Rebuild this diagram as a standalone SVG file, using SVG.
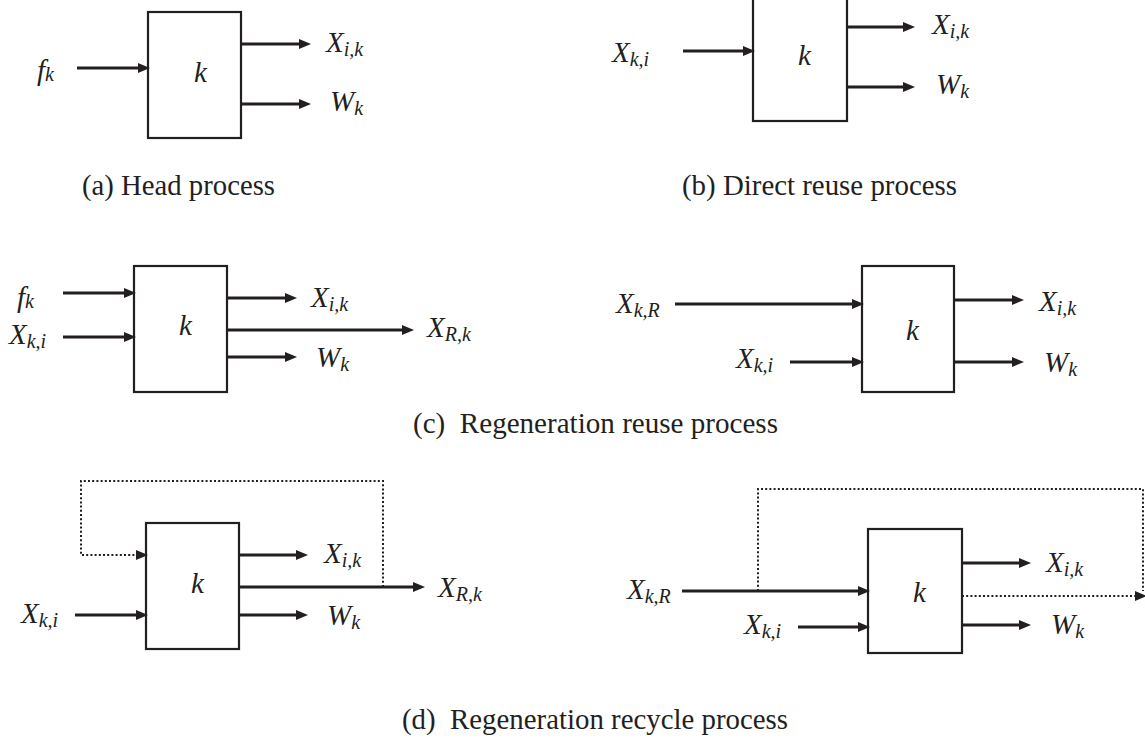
<svg xmlns="http://www.w3.org/2000/svg" width="1145" height="739" viewBox="0 0 1145 739">
<defs>
<marker id="ah" markerUnits="userSpaceOnUse" markerWidth="14" markerHeight="12" refX="5" refY="5" orient="auto">
<path d="M0,0 L12,5 L0,10 z" fill="#231f20"/>
</marker>
<style>
.box{fill:none;stroke:#231f20;stroke-width:2.2}
.ln{fill:none;stroke:#231f20;stroke-width:3}
.ar{marker-end:url(#ah)}
.dot{fill:none;stroke:#231f20;stroke-width:2;stroke-dasharray:2 2.2}
.m{font-family:'Liberation Serif','Times New Roman',serif;font-style:italic;font-size:29px;fill:#231f20}
.sub{font-size:20px}
.cap{font-family:'Liberation Serif','Times New Roman',serif;font-size:28.5px;fill:#231f20}
</style>
</defs>
<rect width="1145" height="739" fill="#ffffff"/>

<g id="node-a"><rect class="box" x="148" y="12" width="93" height="126"/><text class="m" x="194" y="82">k</text></g>
<g id="node-b"><rect class="box" x="753" y="-2" width="94" height="123"/><text class="m" x="798" y="65">k</text></g>
<g id="node-c1"><rect class="box" x="134" y="266" width="93" height="126"/><text class="m" x="179" y="335">k</text></g>
<g id="node-c2"><rect class="box" x="862" y="266" width="92" height="126"/><text class="m" x="906" y="340">k</text></g>
<g id="node-d1"><rect class="box" x="146" y="523" width="93" height="126"/><text class="m" x="191" y="593">k</text></g>
<g id="node-d2"><rect class="box" x="868" y="529" width="94" height="124"/><text class="m" x="913" y="602">k</text></g>

<g id="connectors">
<line class="ln ar" x1="77" y1="68" x2="143" y2="68"/>
<line class="ln ar" x1="241" y1="44" x2="304" y2="44"/>
<line class="ln ar" x1="241" y1="104" x2="304" y2="104"/>
<line class="ln ar" x1="683" y1="51" x2="748" y2="51"/>
<line class="ln ar" x1="847" y1="27" x2="908" y2="27"/>
<line class="ln ar" x1="847" y1="87" x2="908" y2="87"/>
<line class="ln ar" x1="63" y1="293" x2="129" y2="293"/>
<line class="ln ar" x1="63" y1="337" x2="129" y2="337"/>
<line class="ln ar" x1="227" y1="298" x2="290" y2="298"/>
<line class="ln ar" x1="227" y1="330" x2="407" y2="330"/>
<line class="ln ar" x1="227" y1="357" x2="290" y2="357"/>
<line class="ln ar" x1="675" y1="304" x2="857" y2="304"/>
<line class="ln ar" x1="790" y1="362" x2="857" y2="362"/>
<line class="ln ar" x1="954" y1="300" x2="1017" y2="300"/>
<line class="ln ar" x1="954" y1="362" x2="1017" y2="362"/>
<path class="dot ar" d="M383,587 V481 H81 V555 H141"/>
<line class="ln ar" x1="239" y1="555" x2="301" y2="555"/>
<line class="ln ar" x1="239" y1="587" x2="418" y2="587"/>
<line class="ln ar" x1="239" y1="615" x2="301" y2="615"/>
<line class="ln ar" x1="75" y1="615" x2="141" y2="615"/>
<line class="ln ar" x1="682" y1="591" x2="863" y2="591"/>
<path class="dot" d="M758,591 V489 H1143 V591"/>
<path class="dot ar" d="M962,596 H1140"/>
<line class="ln ar" x1="962" y1="563" x2="1024" y2="563"/>
<line class="ln ar" x1="962" y1="625" x2="1024" y2="625"/>
<line class="ln ar" x1="798" y1="627" x2="863" y2="627"/>
</g>

<g id="labels">
<text class="m" x="37" y="80">f<tspan class="sub" dy="1">k</tspan></text>
<text class="m" x="326" y="52">X<tspan class="sub" dy="4">i,k</tspan></text>
<text class="m" x="330" y="111">W<tspan class="sub" dy="4">k</tspan></text>
<text class="m" x="612" y="62">X<tspan class="sub" dy="4">k,i</tspan></text>
<text class="m" x="932" y="34">X<tspan class="sub" dy="4">i,k</tspan></text>
<text class="m" x="936" y="94">W<tspan class="sub" dy="4">k</tspan></text>
<text class="m" x="17" y="307">f<tspan class="sub" dy="1">k</tspan></text>
<text class="m" x="9" y="344">X<tspan class="sub" dy="4">k,i</tspan></text>
<text class="m" x="311" y="307">X<tspan class="sub" dy="4">i,k</tspan></text>
<text class="m" x="427" y="337">X<tspan class="sub" dy="4">R,k</tspan></text>
<text class="m" x="316" y="367">W<tspan class="sub" dy="4">k</tspan></text>
<text class="m" x="616" y="313">X<tspan class="sub" dy="4">k,R</tspan></text>
<text class="m" x="736" y="368">X<tspan class="sub" dy="4">k,i</tspan></text>
<text class="m" x="1039" y="311">X<tspan class="sub" dy="4">i,k</tspan></text>
<text class="m" x="1044" y="372">W<tspan class="sub" dy="4">k</tspan></text>
<text class="m" x="21" y="623">X<tspan class="sub" dy="4">k,i</tspan></text>
<text class="m" x="324" y="563">X<tspan class="sub" dy="4">i,k</tspan></text>
<text class="m" x="438" y="597">X<tspan class="sub" dy="4">R,k</tspan></text>
<text class="m" x="327" y="625">W<tspan class="sub" dy="4">k</tspan></text>
<text class="m" x="627" y="599">X<tspan class="sub" dy="4">k,R</tspan></text>
<text class="m" x="744" y="634">X<tspan class="sub" dy="4">k,i</tspan></text>
<text class="m" x="1046" y="572">X<tspan class="sub" dy="4">i,k</tspan></text>
<text class="m" x="1051" y="634">W<tspan class="sub" dy="4">k</tspan></text>
</g>

<g id="captions">
<text class="cap" x="82" y="195" textLength="193" lengthAdjust="spacingAndGlyphs">(a) Head process</text>
<text class="cap" x="682" y="195" textLength="275" lengthAdjust="spacingAndGlyphs">(b) Direct reuse process</text>
<text class="cap" x="413" y="433" textLength="365" lengthAdjust="spacingAndGlyphs" xml:space="preserve">(c)  Regeneration reuse process</text>
<text class="cap" x="402" y="729" textLength="386" lengthAdjust="spacingAndGlyphs" xml:space="preserve">(d)  Regeneration recycle process</text>
</g>
</svg>
